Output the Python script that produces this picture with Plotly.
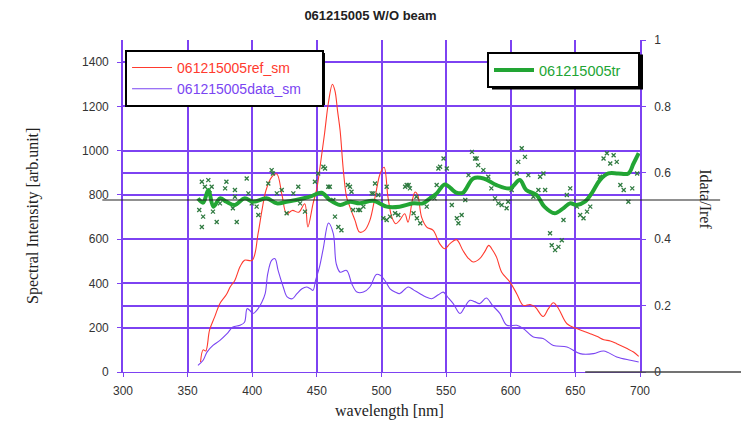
import plotly.graph_objects as go

# ---------------- data ----------------
ref_wl = [360, 362, 364, 367, 371, 375, 380, 383, 386.6, 390.5, 394, 400, 404.5, 407.5, 410.6, 415, 419, 423,
          426.6, 431, 436, 440.6, 443, 447, 450, 453, 456, 459, 462, 464, 466, 468, 470.5, 473, 475.6, 479.5,
          483, 487, 491, 495, 499, 502, 505, 508, 511, 514, 518, 520.5, 524, 526, 528, 531, 535, 540, 545,
          549, 553, 558, 563, 567, 571, 576, 580, 583, 586, 589, 593, 599.4, 604.6, 609.7, 615, 619, 625,
          629, 633, 637, 643.5, 651, 656, 661.5, 667, 672, 677, 682, 690, 695, 699]
ref_sm = [45, 100, 95, 190, 250, 310, 350, 385, 415, 475, 505, 505, 625, 730, 820, 880, 895, 800,
          715, 730, 722, 760, 655, 760, 830, 950, 1080, 1220, 1300, 1270, 1180, 1090, 910, 790, 745, 685,
          632, 640, 685, 790, 897, 925, 790, 700, 670, 685, 715, 677, 780, 813, 800, 700, 655, 640, 580,
          557, 580, 598, 549, 515, 497, 512, 545, 572, 550, 519, 451, 406, 354, 301, 305, 293, 251,
          285, 313, 286, 218, 196, 185, 173, 160, 146, 140, 128, 106, 90, 71]

data_wl = [358, 362, 365, 369.6, 375, 380.5, 385, 390.5, 394, 396, 398, 400.5, 404.5, 407.5, 410, 412, 415,
           417.6, 420, 424, 427, 431, 434.6, 438.5, 442, 445, 447, 449, 452, 455, 459, 462.7, 465, 468, 473,
           477, 481, 486, 491, 496, 499, 503, 506.6, 511, 514, 520.7, 525, 529.8, 534, 538.8, 544, 547.8,
           551, 555.5, 560.8, 564, 568.5, 572, 576, 581, 586, 591.7, 597, 604.6, 609.7, 617.5, 625, 633,
           643.5, 653.6, 664, 672, 682, 692.6, 699]
data_sm = [30, 53, 90, 120, 143, 173, 203, 211, 225, 286, 279, 264, 286, 316, 354, 444, 504,
           512, 459, 384, 339, 331, 354, 376, 384, 376, 369, 414, 474, 560, 673, 625, 489, 451, 459,
           399, 361, 361, 384, 441, 437, 410, 376, 360, 354, 384, 370, 354, 340, 331, 349, 361,
           340, 309, 264, 290, 324, 318, 309, 334, 300, 264, 211, 211, 196, 158, 151, 120,
           113, 83, 83, 95, 68, 53, 45]

tr_wl = [358, 362, 366, 370, 375, 380, 386.6, 394, 400.8, 411, 419, 426.6, 434, 444.7, 453.7, 460, 468,
         475.6, 483, 493.6, 504, 514, 524.6, 532, 537.5, 542.7, 549, 558, 563, 571, 579, 589, 599.4, 607,
         612, 620, 626, 634, 640.6, 645.8, 651, 657.4, 662.6, 669, 675.6, 683, 691, 695, 699]
tr_sm = [0.523, 0.51, 0.548, 0.498, 0.523, 0.513, 0.503, 0.523, 0.513, 0.523, 0.508, 0.513, 0.518, 0.528,
         0.54, 0.518, 0.503, 0.513, 0.508, 0.516, 0.498, 0.498, 0.508, 0.508, 0.523, 0.538, 0.565, 0.54,
         0.54, 0.583, 0.583, 0.563, 0.553, 0.578, 0.548, 0.533, 0.498, 0.478, 0.493, 0.508, 0.503, 0.513,
         0.538, 0.578, 0.598, 0.598, 0.598, 0.628, 0.659]

raw_wl = [361, 366, 363.4, 368.6, 367, 359, 362, 369.6, 372.5, 361, 375, 380, 379, 386.6, 386.6, 385, 388,
          395.7, 397, 399.6, 403.4, 404.7, 412.4, 416, 415, 419, 422.8, 426.6, 431.8, 435.6, 437, 440.8,
          448.5, 451, 456.3, 458.8, 462.7, 475.6, 483.4, 493.7, 504, 519.5, 522, 527, 541, 544,
          455, 460, 464, 466.6, 469, 474, 476.8, 478, 482, 486, 492.4, 495, 497.5, 501.4, 504, 506.6,
          510.5, 513, 518.3, 521, 524.8, 527.4, 530, 535, 542.7, 545.3, 548, 550.5, 554.4, 558.3, 559.5,
          562, 564.8, 567.3, 570, 572.4, 573.6, 574.8, 578.8, 582.6, 585, 587.8, 590.4, 593, 596.8, 598,
          600.7, 604.6, 605.8, 608.5, 611, 613.6, 617.5, 621.4, 622.7, 625.3, 626.6, 630.4, 631.7, 634.3,
          636.9, 639.5, 640.8, 643.4, 646, 651.2, 653.7, 656.3, 659, 661.5, 669, 671.8, 674.4, 677, 679.6,
          682, 684.8, 687.4, 691, 694, 697.8]
raw_tr = [0.573, 0.578, 0.558, 0.558, 0.538, 0.488, 0.468, 0.483, 0.452, 0.437, 0.508, 0.573, 0.553, 0.548,
          0.528, 0.493, 0.452, 0.583, 0.538, 0.508, 0.498, 0.473, 0.568, 0.598, 0.608, 0.538, 0.548, 0.478,
          0.538, 0.558, 0.508, 0.483, 0.573, 0.598, 0.613, 0.558, 0.518, 0.558, 0.488, 0.538, 0.558, 0.563,
          0.553, 0.528, 0.523, 0.613,
          0.618, 0.558, 0.468, 0.437, 0.427, 0.563, 0.543, 0.488, 0.488, 0.498, 0.538, 0.568, 0.533, 0.463,
          0.458, 0.468, 0.478, 0.473, 0.558, 0.563, 0.478, 0.463, 0.448, 0.498, 0.563, 0.618, 0.643, 0.613,
          0.503, 0.463, 0.448, 0.473, 0.518, 0.593, 0.663, 0.643, 0.643, 0.623, 0.608, 0.588, 0.553, 0.523,
          0.508, 0.503, 0.493, 0.513, 0.548, 0.598, 0.633, 0.674, 0.648, 0.593, 0.528, 0.548, 0.588, 0.598,
          0.548, 0.418, 0.382, 0.367, 0.377, 0.397, 0.458, 0.533, 0.553, 0.498, 0.473, 0.463, 0.483, 0.498,
          0.588, 0.643, 0.659, 0.628, 0.653, 0.633, 0.563, 0.548, 0.513, 0.553, 0.598]

x_ticks = [300, 350, 400, 450, 500, 550, 600, 650, 700]
y_ticks = [0, 200, 400, 600, 800, 1000, 1200, 1400]
y2_ticks = [0, 0.2, 0.4, 0.6, 0.8, 1]
y2_labels = ["0", "0.2", "0.4", "0.6", "0.8", "1"]

# ---------------- styles ----------------
GRID = "#7d42f2"
RED = "#ff3a2e"
PURPLE = "#7a45f2"
GREEN = "#22a534"
DKGREEN = "#2f7a40"
SANS = "Liberation Sans, Arial, sans-serif"
SERIF = "Liberation Serif, Times New Roman, serif"
PAD = "&nbsp;&nbsp;&nbsp;&nbsp;"

fig = go.Figure()

fig.add_trace(go.Scatter(x=raw_wl, y=raw_tr, yaxis="y2", mode="markers",
                         marker=dict(symbol="x-thin", size=4, color=DKGREEN,
                                     line=dict(width=1.3, color=DKGREEN)),
                         showlegend=False))
fig.add_trace(go.Scatter(x=ref_wl, y=ref_sm, mode="lines", line=dict(color=RED, width=1.1, shape="spline"),
                         name="<span style='color:%s'>061215005ref_sm</span>" % RED, legend="legend"))
fig.add_trace(go.Scatter(x=data_wl, y=data_sm, mode="lines", line=dict(color=PURPLE, width=1.1, shape="spline"),
                         name="<span style='color:%s'>061215005data_sm</span>%s" % (PURPLE, PAD),
                         legend="legend"))
fig.add_trace(go.Scatter(x=tr_wl, y=tr_sm, yaxis="y2", mode="lines",
                         line=dict(color=GREEN, width=4, shape="spline"),
                         name="<span style='color:%s'>061215005tr</span>&nbsp;&nbsp;&nbsp;" % GREEN,
                         legend="legend2"))

fig.update_layout(
    width=741, height=430,
    margin=dict(l=123, r=101, t=40, b=58),
    paper_bgcolor="white", plot_bgcolor="white",
    font=dict(family=SANS, size=12, color="#333333"),
    title=dict(text="<b>061215005 W/O beam</b>", x=0.5, xref="container", y=0.963, yanchor="middle",
               font=dict(family=SANS, size=13, color="#222222")),
    xaxis=dict(range=[300, 700], tickvals=x_ticks, showgrid=True, gridcolor=GRID, gridwidth=1.6,
               showline=True, linecolor=GRID, linewidth=1, mirror=False, zeroline=False,
               ticks="outside", ticklen=4, tickcolor=GRID, ticklabelstandoff=4,
               tickfont=dict(family=SANS, size=12, color="#333333")),
    yaxis=dict(range=[0, 1500], tickvals=y_ticks, showgrid=True, gridcolor=GRID, gridwidth=1.6,
               showline=True, linecolor=GRID, linewidth=1.6, zeroline=False,
               ticks="outside", ticklen=4, tickcolor=GRID, ticklabelstandoff=6,
               tickfont=dict(family=SANS, size=12, color="#333333")),
    yaxis2=dict(range=[0, 1], overlaying="y", side="right", tickvals=y2_ticks, ticktext=y2_labels,
                showgrid=True, gridcolor=GRID, gridwidth=1.6, zeroline=False,
                showline=True, linecolor=GRID, linewidth=1.6,
                ticks="outside", ticklen=4, tickcolor=GRID, ticklabelstandoff=6,
                tickfont=dict(family=SANS, size=12, color="#333333")),
    legend=dict(x=0.004, y=0.97, xanchor="left", yanchor="top", bgcolor="white",
                bordercolor="black", borderwidth=2, font=dict(family=SANS, size=14),
                itemwidth=40, tracegroupgap=0),
    legend2=dict(x=1.0, y=0.964, xanchor="right", yanchor="top", bgcolor="white",
                 bordercolor="black", borderwidth=2, font=dict(family=SANS, size=14.5),
                 itemwidth=40),
    showlegend=True,
)

# drop shadows behind the legend boxes
fig.add_shape(type="rect", xref="paper", yref="paper", x0=0.0116, x1=0.3907, y0=0.804, y1=0.961,
              fillcolor="black", line=dict(width=0), layer="above")
fig.add_shape(type="rect", xref="paper", yref="paper", x0=0.7137, x1=1.0058, y0=0.851, y1=0.956,
              fillcolor="black", line=dict(width=0), layer="above")

# axis titles as annotations
fig.add_annotation(text="wavelength [nm]", xref="paper", yref="paper", x=0.516, y=-0.117,
                   xanchor="center", yanchor="middle", showarrow=False,
                   font=dict(family=SERIF, size=16, color="#222222"))
fig.add_annotation(text="Spectral Intensity [arb.unit]", xref="paper", yref="paper", x=-0.174, y=0.47,
                   xanchor="center", yanchor="middle", textangle=-90, showarrow=False,
                   font=dict(family=SERIF, size=16, color="#222222"))
fig.add_annotation(text="Idata/Iref", xref="paper", yref="paper", x=1.126, y=0.52,
                   xanchor="center", yanchor="middle", textangle=90, showarrow=False,
                   font=dict(family=SERIF, size=16, color="#222222"))

# stray black rule lines seen in the reference
fig.add_shape(type="line", xref="paper", yref="paper", x0=-0.04, x1=1.155, y0=0.518, y1=0.518,
              line=dict(color="#222222", width=1.2), layer="above")
fig.add_shape(type="line", xref="paper", yref="paper", x0=0.894, x1=1.2, y0=0.0, y1=0.0,
              line=dict(color="#444444", width=1.5), layer="above")

fig.write_html("out.html", config={"displayModeBar": False},
               post_script="document.body.style.margin='0px';")
